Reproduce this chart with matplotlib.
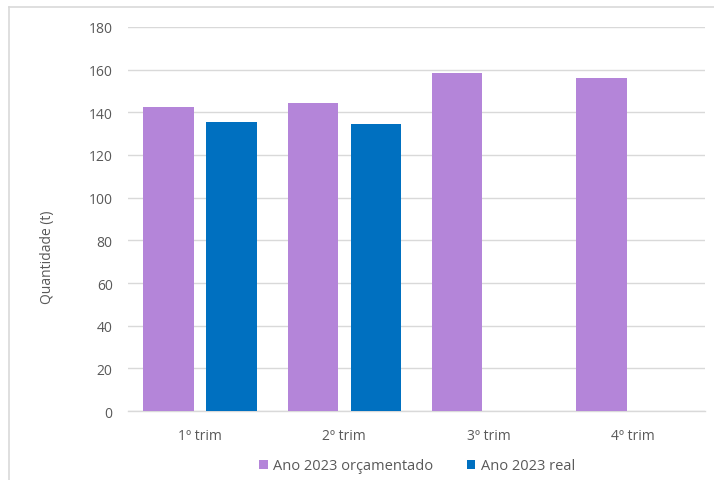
import matplotlib
matplotlib.use("Agg")
import matplotlib.pyplot as plt
from matplotlib.lines import Line2D
from matplotlib.patches import Patch
import numpy as np

categories = ["1º trim", "2º trim", "3º trim", "4º trim"]
orcamentado = [142.5, 144.5, 158.5, 156]
real = [135.5, 134.5, None, None]
series_names = ["Ano 2023 orçamentado", "Ano 2023 real"]
y_ticks = [0, 20, 40, 60, 80, 100, 120, 140, 160, 180]

purple = "#B485D9"
blue = "#0070C0"
text_gray = "#595959"
grid_gray = "#D9D9D9"

plt.rcParams["font.family"] = ["Open Sans", "DejaVu Sans"]

fig = plt.figure(figsize=(7.14, 4.81), dpi=100)
ax = fig.add_axes([128 / 714, 1 - 412 / 481, 577 / 714, 384 / 481])

x = np.arange(len(categories))
width = 0.35
offset = 0.218

ax.bar(x - offset, orcamentado, width, color=purple, zorder=3)
real_x = [xi + offset for xi, v in zip(x, real) if v is not None]
real_v = [v for v in real if v is not None]
ax.bar(real_x, real_v, width, color=blue, zorder=3)

ax.set_xlim(-0.5, len(categories) - 0.5)
ax.set_ylim(0, 180)
ax.set_yticks(y_ticks)
ax.set_xticks(x)
ax.set_xticklabels(categories)

ax.grid(axis="y", color=grid_gray, linewidth=1.0, zorder=0)
for side in ["top", "right", "left"]:
    ax.spines[side].set_visible(False)
ax.spines["bottom"].set_color(grid_gray)
ax.spines["bottom"].set_linewidth(1.0)

ax.tick_params(axis="both", length=0, labelcolor=text_gray, labelsize=10)
ax.tick_params(axis="y", pad=11)
ax.tick_params(axis="x", pad=12)

fig.text(48 / 714, 1 - 257 / 481, "Quantidade (t)", rotation=90,
         ha="center", va="center", color=text_gray, fontsize=10)

handles = [Patch(facecolor=purple), Patch(facecolor=blue)]
fig.legend(handles, series_names, loc="center", bbox_to_anchor=(417 / 714, 1 - 467 / 481),
           ncol=2, frameon=False, fontsize=10.5, labelcolor=text_gray,
           handlelength=0.6, handleheight=0.6, handletextpad=0.35, columnspacing=2.3)

# outer chart frame
fig.add_artist(Line2D([8.5 / 714, 8.5 / 714], [0, 1 - 7.5 / 481], transform=fig.transFigure,
                      color=grid_gray, linewidth=1.2))
fig.add_artist(Line2D([8.5 / 714, 1], [1 - 7.5 / 481, 1 - 7.5 / 481], transform=fig.transFigure,
                      color=grid_gray, linewidth=1.2))

fig.savefig("out.png", dpi=100, facecolor="white")
